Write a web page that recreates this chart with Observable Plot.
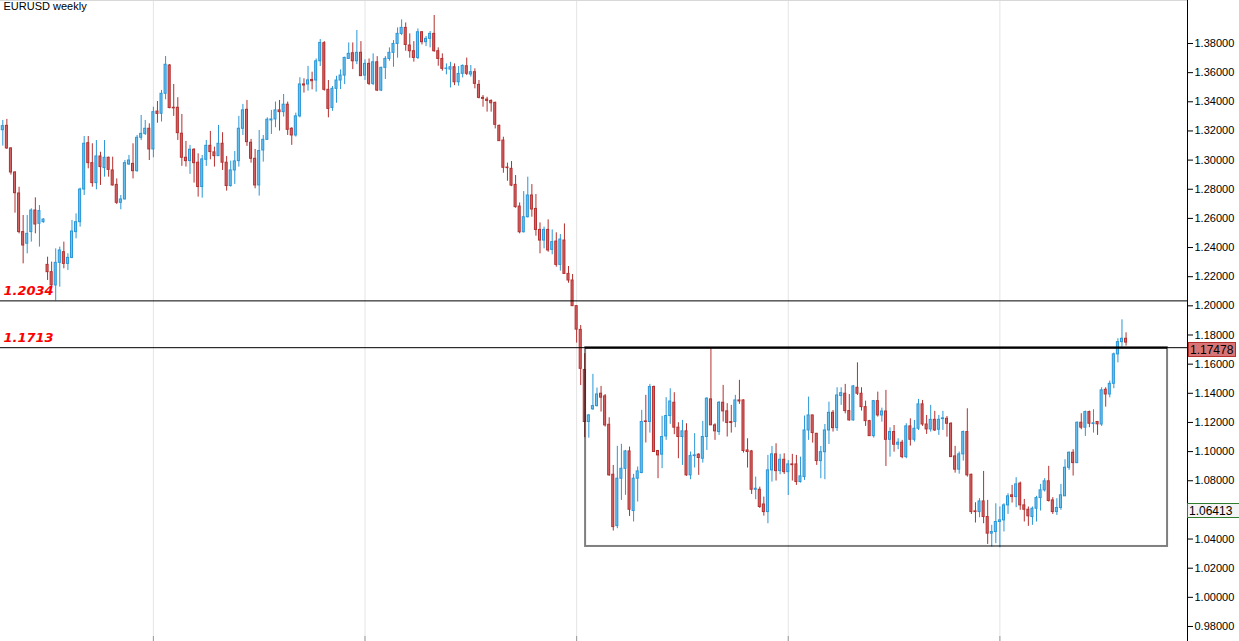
<!DOCTYPE html>
<html>
<head>
<meta charset="utf-8">
<script src="https://cdn.jsdelivr.net/npm/d3@7"></script>
<script src="https://cdn.jsdelivr.net/npm/@observablehq/plot@0.6"></script>
<style>
  html, body { margin: 0; padding: 0; background: #fff; }
  #chart svg { display: block; background: linear-gradient(to right, #ffffff 1187px, #f4f4f4 1187px); }
</style>
</head>
<body>
<div id="chart"></div>
<script>
const title = "EURUSD weekly";

const opens = [1.3205,1.3235,1.3080,1.2915,1.2771,1.2506,1.2426,1.2506,1.2654,1.2563,1.2574,1.2281,1.2231,1.2140,1.2295,1.2368,1.2288,1.2329,1.2506,1.2574,
1.2798,1.3116,1.2979,1.2842,1.3025,1.2945,1.3016,1.2929,1.2830,1.2707,1.2730,1.2970,1.2974,1.2924,1.3153,1.3180,1.3215,1.3073,1.3333,1.3318,
1.3455,1.3649,1.3359,1.3359,1.3181,1.3016,1.2993,1.3071,1.2982,1.2815,1.3002,1.3098,1.3053,1.3027,1.3112,1.2982,1.2822,1.2929,1.2993,1.3215,
1.3345,1.3119,1.3009,1.2826,1.3066,1.3139,1.3272,1.3279,1.3341,1.3329,1.3380,1.3215,1.3169,1.3300,1.3519,1.3519,1.3550,1.3546,1.3678,1.3802,
1.3482,1.3358,1.3489,1.3546,1.3580,1.3694,1.3733,1.3678,1.3736,1.3580,1.3660,1.3523,1.3671,1.3477,1.3633,1.3694,1.3736,1.3797,1.3866,1.3907,
1.3786,1.3747,1.3701,1.3877,1.3809,1.3832,1.3866,1.3747,1.3694,1.3626,1.3621,1.3637,1.3534,1.3592,1.3644,1.3587,1.3603,1.3516,1.3427,1.3415,
1.3406,1.3393,1.3235,1.3134,1.2949,1.2940,1.2830,1.2681,1.2505,1.2608,1.2757,1.2665,1.2521,1.2448,1.2521,1.2384,1.2441,1.2281,1.2448,1.2219,
1.2174,1.1998,1.1835,1.1560,1.1203,1.1290,1.1312,1.1397,1.1379,1.1184,1.0841,1.0489,1.0814,1.0882,1.1001,1.0592,1.0814,1.0853,1.1207,1.1203,
1.1443,1.1004,1.0979,1.1104,1.1244,1.1335,1.1164,1.1100,1.1139,1.0837,1.0969,1.0979,1.0951,1.1100,1.1358,1.1180,1.1134,1.1335,1.1276,1.1203,
1.1203,1.1351,1.1351,1.1008,1.1001,1.0738,1.0738,1.0637,1.0585,1.0871,1.0981,1.0866,1.0944,1.0859,1.0912,1.0912,1.0791,1.0825,1.1145,1.1248,
1.1122,1.0935,1.0996,1.1145,1.1266,1.1161,1.1381,1.1397,1.1278,1.1214,1.1438,1.1397,1.1305,1.1209,1.1106,1.1346,1.1248,1.1275,1.1081,1.1134,
1.1047,1.1061,1.0962,1.1173,1.1081,1.1157,1.1324,1.1186,1.1152,1.1218,1.1150,1.1223,1.1225,1.1191,1.0967,1.0876,1.0981,1.1134,1.0841,1.0590,
1.0585,1.0658,1.0551,1.0437,1.0448,1.0517,1.0528,1.0631,1.0700,1.0688,1.0780,1.0631,1.0601,1.0551,1.0608,1.0681,1.0734,1.0796,1.0665,1.0585,
1.0613,1.0693,1.0889,1.0992,1.0921,1.1198,1.1164,1.1271,1.1189,1.1203,1.1186,1.1424,1.1392,1.1465,1.1667,1.1751,1.1774];

const highs = [1.3272,1.3279,1.3085,1.2920,1.2814,1.2620,1.2620,1.2666,1.2741,1.2688,1.2597,1.2334,1.2300,1.2391,1.2403,1.2437,1.2357,1.2586,1.2631,1.2807,
1.3162,1.3162,1.3112,1.3134,1.3054,1.3134,1.3020,1.3020,1.2871,1.2757,1.2997,1.3032,1.3112,1.3169,1.3306,1.3272,1.3249,1.3363,1.3402,1.3478,
1.3711,1.3656,1.3519,1.3428,1.3313,1.3128,1.3101,1.3078,1.3043,1.3032,1.3135,1.3197,1.3089,1.3238,1.3188,1.3025,1.2993,1.3059,1.3300,1.3382,
1.3409,1.3142,1.3073,1.3203,1.3169,1.3290,1.3341,1.3398,1.3409,1.3450,1.3398,1.3222,1.3322,1.3565,1.3558,1.3643,1.3603,1.3694,1.3827,1.3813,
1.3546,1.3505,1.3575,1.3619,1.3706,1.3804,1.3804,1.3889,1.3813,1.3688,1.3694,1.3729,1.3710,1.3637,1.3710,1.3770,1.3820,1.3907,1.3962,1.3941,
1.3866,1.3813,1.3900,1.3882,1.3848,1.3882,1.3992,1.3770,1.3729,1.3660,1.3671,1.3660,1.3642,1.3653,1.3700,1.3649,1.3626,1.3546,1.3443,1.3431,
1.3413,1.3397,1.3240,1.3157,1.2979,1.2990,1.2894,1.2706,1.2784,1.2883,1.2832,1.2764,1.2569,1.2540,1.2590,1.2521,1.2501,1.2489,1.2562,1.2270,
1.2215,1.2000,1.1865,1.1672,1.1255,1.1530,1.1436,1.1447,1.1392,1.1232,1.0905,1.1036,1.1050,1.1008,1.1031,1.0844,1.0894,1.1283,1.1386,1.1461,
1.1450,1.1008,1.1242,1.1370,1.1431,1.1404,1.1198,1.1214,1.1191,1.0997,1.1123,1.0985,1.1207,1.1370,1.1713,1.1191,1.1344,1.1454,1.1329,1.1317,
1.1386,1.1489,1.1355,1.1088,1.1008,1.0825,1.0756,1.0688,1.0974,1.1035,1.1054,1.0981,1.0985,1.0939,1.0981,1.0974,1.0962,1.1244,1.1374,1.1250,
1.1125,1.1035,1.1186,1.1339,1.1282,1.1438,1.1438,1.1461,1.1392,1.1454,1.1609,1.1438,1.1346,1.1214,1.1351,1.1408,1.1298,1.1420,1.1163,1.1179,
1.1088,1.1077,1.1191,1.1225,1.1214,1.1358,1.1351,1.1248,1.1317,1.1276,1.1248,1.1276,1.1241,1.1198,1.1036,1.0997,1.1141,1.1294,1.0845,1.0649,
1.0677,1.0864,1.0665,1.0494,1.0642,1.0620,1.0642,1.0711,1.0768,1.0821,1.0791,1.0672,1.0620,1.0620,1.0693,1.0775,1.0814,1.0899,1.0684,1.0677,
1.0775,1.0944,1.0997,1.1013,1.1203,1.1260,1.1278,1.1278,1.1287,1.1207,1.1438,1.1438,1.1484,1.1676,1.1774,1.1904,1.1815];

const lows = [1.3096,1.3073,1.2897,1.2636,1.2494,1.2288,1.2357,1.2437,1.2494,1.2403,1.2567,1.2174,1.2133,1.2034,1.2128,1.2254,1.2243,1.2323,1.2460,1.2540,
1.2757,1.2940,1.2814,1.2796,1.2826,1.2883,1.2883,1.2822,1.2695,1.2659,1.2727,1.2963,1.2871,1.2917,1.3134,1.3169,1.2997,1.3016,1.3253,1.3261,
1.3414,1.3352,1.3300,1.3135,1.2957,1.2952,1.2902,1.2842,1.2746,1.2739,1.2957,1.3002,1.2952,1.3027,1.2929,1.2787,1.2815,1.2833,1.2952,1.3169,
1.3094,1.2979,1.2803,1.2753,1.2986,1.3135,1.3176,1.3222,1.3199,1.3295,1.3169,1.3101,1.3158,1.3290,1.3460,1.3473,1.3482,1.3466,1.3642,1.3473,
1.3290,1.3335,1.3390,1.3484,1.3518,1.3694,1.3621,1.3655,1.3576,1.3546,1.3511,1.3511,1.3470,1.3470,1.3553,1.3678,1.3637,1.3699,1.3854,1.3747,
1.3699,1.3672,1.3690,1.3790,1.3779,1.3770,1.3740,1.3644,1.3610,1.3585,1.3495,1.3511,1.3507,1.3564,1.3580,1.3569,1.3489,1.3420,1.3363,1.3329,
1.3329,1.3214,1.3128,1.2910,1.2855,1.2818,1.2670,1.2494,1.2500,1.2603,1.2608,1.2478,1.2357,1.2391,1.2368,1.2350,1.2265,1.2238,1.2215,1.2155,
1.1995,1.1744,1.1453,1.1095,1.1092,1.1283,1.1306,1.1271,1.1168,1.0830,1.0455,1.0471,1.0665,1.0700,1.0555,1.0517,1.0654,1.0848,1.1059,1.1127,
1.0997,1.0814,1.0883,1.1077,1.1187,1.1116,1.0951,1.0905,1.0830,1.0807,1.0887,1.0837,1.0921,1.1008,1.1180,1.1077,1.1111,1.1203,1.1100,1.1127,
1.1164,1.1324,1.0990,1.0887,1.0706,1.0670,1.0610,1.0557,1.0505,1.0791,1.0798,1.0841,1.0843,1.0699,1.0798,1.0768,1.0784,1.0802,1.1077,1.1058,
1.0905,1.0814,1.0807,1.1049,1.1134,1.1138,1.1317,1.1259,1.1209,1.1209,1.1385,1.1278,1.1173,1.1106,1.1093,1.1237,1.1202,1.0898,1.0962,1.0996,
1.1013,1.0951,1.0951,1.1038,1.1065,1.1145,1.1173,1.1118,1.1134,1.1138,1.1111,1.1145,1.1099,1.0962,1.0852,1.0845,1.0935,1.0825,1.0569,1.0510,
1.0546,1.0505,1.0363,1.0345,1.0368,1.0340,1.0448,1.0569,1.0647,1.0615,1.0597,1.0517,1.0487,1.0494,1.0517,1.0592,1.0722,1.0654,1.0569,1.0562,
1.0597,1.0693,1.0871,1.0832,1.0917,1.1150,1.1104,1.1164,1.1127,1.1111,1.1173,1.1305,1.1369,1.1431,1.1609,1.1717,1.1724];

const closes = [1.3233,1.3080,1.2915,1.2773,1.2506,1.2414,1.2494,1.2654,1.2558,1.2650,1.2592,1.2231,1.2140,1.2295,1.2380,1.2288,1.2329,1.2510,1.2574,1.2798,
1.3112,1.2979,1.2842,1.3025,1.2952,1.3016,1.2933,1.2826,1.2707,1.2730,1.2979,1.2997,1.2924,1.3153,1.3180,1.3215,1.3073,1.3329,1.3317,1.3455,
1.3654,1.3357,1.3355,1.3185,1.3016,1.2993,1.3071,1.2979,1.2815,1.3005,1.3098,1.3055,1.3027,1.3112,1.2982,1.2822,1.2929,1.2991,1.3215,1.3341,
1.3123,1.3009,1.2826,1.3062,1.3139,1.3277,1.3279,1.3341,1.3329,1.3380,1.3208,1.3169,1.3300,1.3519,1.3512,1.3547,1.3541,1.3678,1.3804,1.3482,
1.3351,1.3489,1.3546,1.3580,1.3701,1.3729,1.3678,1.3736,1.3576,1.3660,1.3523,1.3671,1.3477,1.3633,1.3694,1.3736,1.3797,1.3866,1.3907,1.3790,
1.3747,1.3701,1.3877,1.3809,1.3832,1.3866,1.3747,1.3694,1.3626,1.3628,1.3637,1.3534,1.3591,1.3646,1.3592,1.3603,1.3523,1.3427,1.3420,1.3406,
1.3390,1.3242,1.3130,1.2947,1.2945,1.2825,1.2677,1.2505,1.2608,1.2757,1.2661,1.2521,1.2448,1.2521,1.2380,1.2437,1.2281,1.2455,1.2219,1.2174,
1.1998,1.1837,1.1568,1.1203,1.1248,1.1312,1.1392,1.1370,1.1180,1.0837,1.0482,1.0814,1.0882,1.1001,1.0601,1.0814,1.0864,1.1203,1.1203,1.1443,
1.0997,1.0974,1.1100,1.1244,1.1344,1.1164,1.1100,1.1139,1.0837,1.0969,1.0974,1.0956,1.1100,1.1363,1.1180,1.1139,1.1335,1.1276,1.1196,1.1196,
1.1351,1.1344,1.1004,1.0997,1.0738,1.0745,1.0620,1.0585,1.0871,1.0981,1.0866,1.0944,1.0859,1.0912,1.0907,1.0791,1.0830,1.1145,1.1248,1.1127,
1.0935,1.0996,1.1145,1.1266,1.1161,1.1385,1.1401,1.1278,1.1214,1.1447,1.1397,1.1305,1.1209,1.1106,1.1346,1.1248,1.1275,1.1081,1.1134,1.1047,
1.1061,1.0962,1.1173,1.1081,1.1157,1.1324,1.1186,1.1152,1.1218,1.1145,1.1218,1.1228,1.1191,1.0962,1.0876,1.0981,1.1134,1.0837,1.0585,1.0585,
1.0658,1.0551,1.0437,1.0448,1.0517,1.0528,1.0631,1.0693,1.0688,1.0775,1.0631,1.0601,1.0556,1.0608,1.0681,1.0734,1.0796,1.0661,1.0585,1.0613,
1.0700,1.0889,1.0992,1.0921,1.1198,1.1164,1.1271,1.1191,1.1194,1.1187,1.1420,1.1392,1.1465,1.1667,1.1751,1.1774,1.1748];

// vertical year separators (candle index positions)
const yearBreaks = [38, 90, 142, 194, 246];
// price axis tick labels (1.06000 sits under the 1.06413 marker tag, so it is not shown)
const yTicks = [0.98, 1.00, 1.02, 1.04, 1.08, 1.10, 1.12, 1.14, 1.16, 1.18, 1.20,
                1.22, 1.24, 1.26, 1.28, 1.30, 1.32, 1.34, 1.36, 1.38];
// horizontal levels
const levels = [1.2034, 1.1713];
// range box: from candle 144 to 287, between 1.0349 and 1.1713
const boxStart = 144.2, boxEnd = 287.2, boxLow = 1.0349, boxHigh = 1.1713;
// price tags on the axis
const lastPrice = 1.17478;
const markerPrice = 1.06413;

const candles = opens.map((o, k) => ({
  i: k + 1, o, h: highs[k], l: lows[k], c: closes[k], up: closes[k] >= o
}));

const upStroke = "#2a96d6", upFill = "#6fc3ee";
const dnStroke = "#b3302f", dnFill = "#d46668";

function priceTag(value, {fill, stroke, x0 = 1, w = 48}) {
  return (index, scales, values, dims) => {
    const y = scales.y(value);
    const left = dims.width - dims.marginRight;
    const g = d3.create("svg:g");
    g.append("rect")
      .attr("x", left + x0 + 0.5).attr("y", Math.round(y) + 0.5)
      .attr("width", w).attr("height", 14)
      .attr("fill", fill).attr("stroke", stroke);
    g.append("text")
      .attr("x", left + x0 + 2).attr("y", Math.round(y) + 12)
      .attr("text-anchor", "start")
      .attr("font-family", "Liberation Sans, Arial, sans-serif")
      .attr("font-size", 12).attr("fill", "#000")
      .text(d3.format(".5f")(value));
    return g.node();
  };
}

const chart = Plot.plot({
  width: 1239,
  height: 641,
  marginTop: 0,
  marginBottom: 0,
  marginLeft: 0,
  marginRight: 52,
  style: {fontFamily: "Liberation Sans, Arial, sans-serif", fontSize: "11px", color: "#000", background: "transparent"},
  x: {domain: [0.435, 292.1], axis: null, label: null},
  y: {domain: [0.9697, 1.4095], axis: null, label: null},
  marks: [
    Plot.gridX(yearBreaks, {stroke: "#e4e4e4", strokeOpacity: 1}),
    Plot.axisX(yearBreaks, {anchor: "bottom", tickSize: -5, tickFormat: () => "", label: null, stroke: "#9a9a9a"}),
    Plot.frame({anchor: "top", stroke: "#d8d8d8"}),
    Plot.ruleX(candles, {x: "i", y1: "l", y2: "h", stroke: d => d.up ? upStroke : dnStroke, strokeWidth: 1}),
    Plot.rect(candles, {
      x1: d => d.i - 0.25, x2: d => d.i + 0.25,
      y1: "o", y2: "c",
      fill: d => d.up ? upFill : dnFill,
      stroke: d => d.up ? upStroke : dnStroke,
      strokeWidth: 1
    }),
    Plot.rect([{}], {x1: boxStart, x2: boxEnd, y1: boxLow, y2: boxHigh, fill: "none", stroke: "#000", strokeOpacity: 0.5, strokeWidth: 2}),
    Plot.ruleY(levels, {stroke: "#000", strokeWidth: 1}),
    Plot.ruleY([boxHigh], {x1: boxStart, x2: boxEnd, stroke: "#000", strokeWidth: 2}),
    Plot.text(levels, {
      x: 0.435, y: d => d, text: d => d.toFixed(4),
      textAnchor: "start", lineAnchor: "middle", dx: 3, dy: -10,
      fill: "#ff0000", fontSize: 13, fontWeight: "bold", fontStyle: "italic",
      fontFamily: "DejaVu Sans, sans-serif"
    }),
    Plot.axisY(yTicks, {
      anchor: "right", tickSize: 5, tickPadding: 2, label: null,
      tickFormat: d3.format(".5f"), fontSize: 11, fill: "#000", stroke: "#000"
    }),
    Plot.frame({anchor: "right", stroke: "#000"}),
    priceTag(markerPrice, {fill: "#f4f4f4", stroke: "#2e7d2e", x0: 0, w: 52}),
    priceTag(lastPrice, {fill: "#d87476", stroke: "#b3302f", x0: 1, w: 47}),
    Plot.text([title], {frameAnchor: "top-left", text: d => d, dx: 3, dy: 2, lineAnchor: "top", fontSize: 11, fill: "#000"})
  ]
});

document.getElementById("chart").appendChild(chart);
</script>
</body>
</html>
